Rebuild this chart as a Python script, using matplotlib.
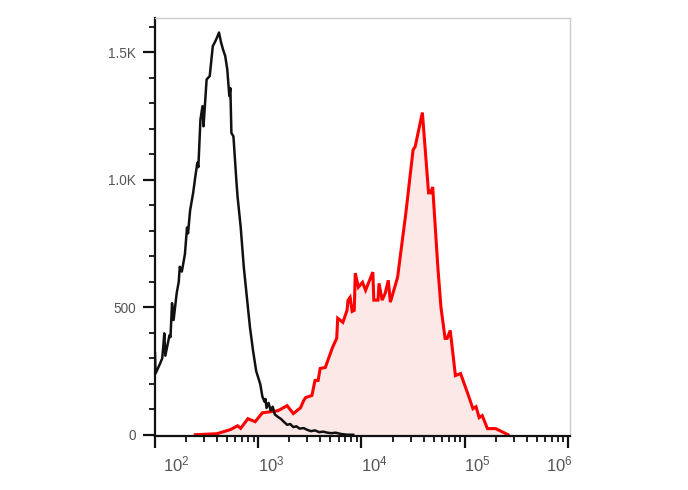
import numpy as np
import matplotlib
matplotlib.use("Agg")
import matplotlib.pyplot as plt
from matplotlib.transforms import ScaledTranslation

plt.rcParams['font.family'] = ['Liberation Sans', 'DejaVu Sans']
plt.rcParams['mathtext.fontset'] = 'custom'
plt.rcParams['mathtext.rm'] = 'Liberation Sans'
plt.rcParams['mathtext.it'] = 'Liberation Sans'

# Unstained / isotype control histogram (log10 of fluorescence, count)
black_log10 = [2.00, 2.005, 2.03, 2.05, 2.07, 2.08, 2.09, 2.10, 2.12, 2.14, 2.15, 2.165, 2.18, 2.21,
               2.23, 2.24, 2.26, 2.29, 2.31, 2.32, 2.34, 2.37, 2.39, 2.41, 2.42, 2.44, 2.46, 2.47,
               2.50, 2.53, 2.56, 2.58, 2.60, 2.62, 2.64, 2.66, 2.68, 2.70, 2.72, 2.73, 2.74, 2.76,
               2.79, 2.80, 2.83, 2.86, 2.89, 2.92, 2.95, 2.98, 3.02, 3.04, 3.06, 3.07, 3.08, 3.10,
               3.12, 3.14, 3.16, 3.19, 3.22, 3.25, 3.28, 3.31, 3.34, 3.37, 3.40, 3.44, 3.47, 3.51,
               3.55, 3.59, 3.63, 3.67, 3.71, 3.75, 3.80, 3.86, 3.92]
black_count = [320, 240, 262, 280, 300, 345, 398, 310, 350, 390, 383, 516, 450, 555,
               600, 659, 640, 709, 813, 790, 880, 950, 1011, 1067, 1050, 1236, 1289, 1210,
               1394, 1407, 1525, 1540, 1558, 1578, 1539, 1510, 1486, 1434, 1329, 1360, 1184, 1170,
               986, 933, 815, 658, 539, 421, 329, 250, 198, 150, 130, 140, 105, 125,
               95, 110, 80, 70, 62, 50, 39, 42, 30, 33, 24, 26, 20, 14,
               17, 10, 12, 8, 6, 8, 3, 0, 0]

# Stained sample histogram
red_log10 = [2.39, 2.60, 2.73, 2.80, 2.83, 2.90, 2.97, 3.04, 3.19, 3.28, 3.34, 3.41, 3.44, 3.46,
             3.52, 3.55, 3.58, 3.60, 3.65, 3.72, 3.76, 3.77, 3.82, 3.86, 3.87, 3.89, 3.91, 3.93,
             3.94, 3.97, 4.01, 4.04, 4.11, 4.12, 4.16, 4.17, 4.20, 4.23, 4.26, 4.28, 4.35, 4.38,
             4.43, 4.50, 4.52, 4.59, 4.65, 4.67, 4.69, 4.74, 4.77, 4.81, 4.83, 4.86, 4.91, 4.96,
             5.03, 5.08, 5.11, 5.14, 5.17, 5.22, 5.30, 5.42]
red_count = [0, 4, 20, 35, 25, 63, 51, 86, 94, 114, 83, 106, 134, 146,
             154, 213, 213, 260, 264, 343, 378, 457, 441, 488, 528, 539, 484, 488,
             634, 579, 598, 567, 638, 528, 528, 594, 528, 555, 606, 520, 618, 713,
             870, 1118, 1130, 1264, 949, 949, 972, 657, 500, 378, 378, 409, 232, 240,
             161, 102, 110, 67, 75, 24, 24, 0]

y_ticks = [0, 500, 1000, 1500]
y_labels = ['0', '500', '1.0K', '1.5K']
x_ticks = [1e2, 1e3, 1e4, 1e5, 1e6]
x_labels = [r'$10^{2}$', r'$10^{3}$', r'$10^{4}$', r'$10^{5}$', r'$10^{6}$']

fig = plt.figure(figsize=(6.88, 4.90), dpi=100)
ax = fig.add_axes([155/688, 1 - 436/490, (570-155)/688, (436-18)/490])

bx = 10 ** np.array(black_log10)
rx = 10 ** np.array(red_log10)

ax.fill_between(rx, red_count, 0, color='#fde8e8', lw=0, zorder=1)
ax.plot(rx, red_count, color='#ff0000', lw=2.2, zorder=2, solid_joinstyle='miter')
ax.plot(bx, black_count, color='#111111', lw=1.8, zorder=3)

ax.set_xscale('log')
ax.set_xlim(1e2, 10 ** 6.02)
ax.set_ylim(-5, 1635)

ax.set_yticks(y_ticks)
ax.set_yticklabels(y_labels)
ax.set_yticks(np.arange(100, 1700, 100), minor=True)
ax.set_xticks(x_ticks)
ax.set_xticklabels(x_labels)
minor = [m * 10 ** e for e in range(2, 6) for m in range(2, 10)]
ax.set_xticks(minor, minor=True)

ax.tick_params(axis='both', which='major', direction='out', length=8.5, width=1.6,
               color='#111111', labelcolor='#555555')
ax.tick_params(axis='both', which='minor', direction='out', length=4.5, width=1.3,
               color='#111111')
ax.tick_params(axis='y', which='major', labelsize=9.8, pad=5)
ax.tick_params(axis='x', which='major', labelsize=12, pad=5)

offsets = [21, 13, 13, 13, -9]
for lab, off in zip(ax.get_xticklabels(), offsets):
    lab.set_transform(lab.get_transform() + ScaledTranslation(off / 100, 0, fig.dpi_scale_trans))

for s in ['left', 'bottom']:
    ax.spines[s].set_color('#111111')
    ax.spines[s].set_linewidth(1.6)
for s in ['top', 'right']:
    ax.spines[s].set_color('#cccccc')
    ax.spines[s].set_linewidth(1.0)

fig.savefig('out.png', dpi=100)
